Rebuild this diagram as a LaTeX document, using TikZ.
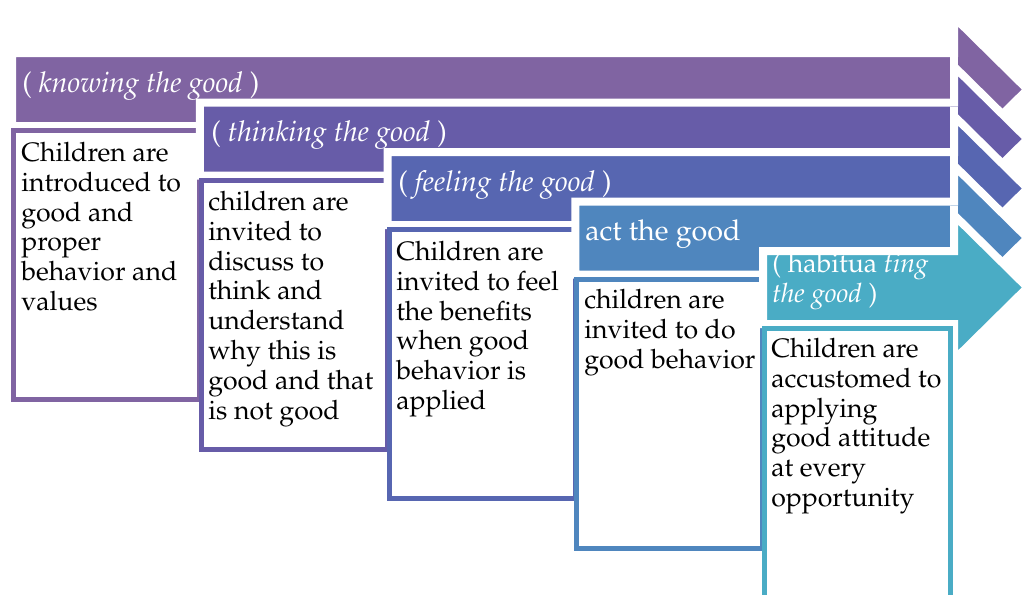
\documentclass[tikz,border=0pt]{standalone}
\usepackage[T1]{fontenc}
\usepackage{mathpazo}
\begin{document}
\begin{tikzpicture}[x=0.75pt,y=-0.75pt,
  headtxt/.style={text=white, anchor=north west, inner sep=0pt, align=left,
    font=\fontsize{21.5}{22.5}\selectfont, execute at begin node=\strut},
  boxtxt/.style={text=black, anchor=north west, inner sep=0pt, align=left,
    font=\fontsize{20}{22.35}\selectfont, execute at begin node=\strut}]
  \definecolor{stpA}{RGB}{128,100,162}
  \definecolor{stpB}{RGB}{103,92,168}
  \definecolor{stpC}{RGB}{87,102,177}
  \definecolor{stpD}{RGB}{79,134,190}
  \definecolor{stpE}{RGB}{74,172,197}
  \useasboundingbox (0,0) rectangle (1024,594);
  \foreach \k/\col in {0/stpA,1/stpB,2/stpC,3/stpD,4/stpE} {
    \pgfmathsetmacro{\xl}{16+187.75*\k}
    \pgfmathsetmacro{\yt}{57+49.5*\k}
    \pgfmathsetmacro{\yc}{\yt+32.5}
    \pgfmathsetmacro{\bx}{11+187.75*\k}
    \pgfmathsetmacro{\by}{128+49.5*\k}
    % arrow with white rim
    \filldraw[fill=\col, draw=white, line width=6pt]
      (\xl-4,\yt-4) -- (954,\yt-4) -- (954,\yc-72.5) -- (1027.5,\yc)
      -- (954,\yc+72.5) -- (954,\yt+69) -- (\xl-4,\yt+69) -- cycle;
    \ifnum\k<4
      \draw[white, line width=6pt] (954,\yt) -- (954,\yt+65);
    \fi
    % text box
    \draw[\col, line width=3.75pt, fill=white]
      (\bx+2.5,\by+2.5) rectangle (\bx+188.5,\by+271.5);
  }
  % first baselines minus strut height (about 21px)
  \node[headtxt] (hd1) at (22,71) {( \textit{knowing the good} )};
  \node[headtxt] (hd2) at (211,120) {( \textit{thinking the good} )};
  \node[headtxt] (hd3) at (398,170) {( \textit{feeling the good} )};
  \node[headtxt] (hd4) at (585,219) {act the good};
  \node[headtxt, font=\fontsize{20}{22.4}\selectfont] (hd5) at (772,253)
    {( habitua \textit{ting}\\\textit{the good} )};
  \node[boxtxt] (tx1) at (21,142) {Children are\\introduced to\\good and\\proper\\behavior and\\values};
  \node[boxtxt] (tx2) at (208,191) {children are\\invited to\\discuss to\\think and\\understand\\why this is\\good and that\\is not good};
  \node[boxtxt] (tx3) at (396,241) {Children are\\invited to feel\\the benefits\\when good\\behavior is\\applied};
  \node[boxtxt] (tx4) at (584,289) {children are\\invited to do\\good behavior};
  \node[boxtxt] (tx5) at (771,338) {Children are\\accustomed to\\applying\\good attitude\\at every\\opportunity};
\end{tikzpicture}
\end{document}
